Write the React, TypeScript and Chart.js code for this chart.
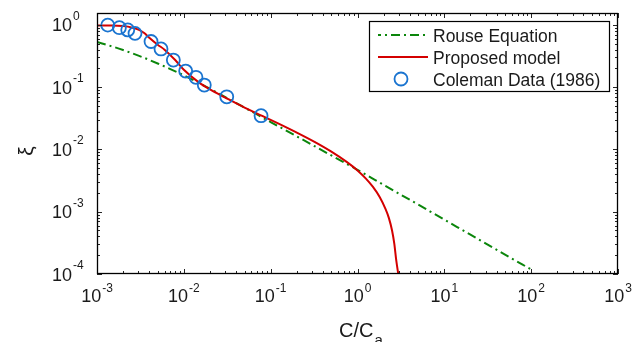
import React, { useEffect, useRef } from 'react';
import { Chart, registerables } from 'chart.js';

Chart.register(...registerables);

// ---- data ----
const rouseX = [0.001, 0.0015, 0.002, 0.003, 0.005, 0.007, 0.01, 0.02, 0.05, 0.1, 0.2, 0.5, 1, 2, 5, 10, 20, 50, 100];
const rouseY = [0.53, 0.45, 0.394, 0.321, 0.24, 0.195, 0.155, 0.094, 0.047, 0.0275, 0.0162, 0.008, 0.0047, 0.0027, 0.0013, 0.000745, 0.000428, 0.000205, 0.000118];

const modelX = [0.001, 0.0015, 0.002, 0.0025, 0.003, 0.0035, 0.004, 0.005, 0.006, 0.008, 0.01, 0.015, 0.02, 0.03, 0.05, 0.08, 0.12, 0.2, 0.32, 0.5, 0.75, 1.0, 1.25, 1.5, 1.8, 2.1, 2.3, 2.5, 2.65, 2.8, 2.95];
const modelY = [0.98, 0.98, 0.955, 0.91, 0.84, 0.74, 0.62, 0.48, 0.4, 0.27, 0.19, 0.118, 0.092, 0.068, 0.047, 0.0345, 0.0264, 0.0186, 0.0132, 0.0092, 0.0063, 0.0046, 0.0034, 0.00252, 0.00172, 0.00111, 0.00079, 0.0005, 0.00031, 0.000162, 0.0001];

const colemanX = [0.00133, 0.00181, 0.00226, 0.00274, 0.00419, 0.00546, 0.00757, 0.0105, 0.0138, 0.0172, 0.0312, 0.0775];
const colemanY = [0.99, 0.9, 0.83, 0.73, 0.54, 0.41, 0.272, 0.181, 0.144, 0.108, 0.07, 0.0348];

const xTickExps = [-3, -2, -1, 0, 1, 2, 3];
const yTickExps = [-4, -3, -2, -1, 0];
const legendLabels = ['Rouse Equation', 'Proposed model', 'Coleman Data (1986)'];
const xTitle = 'C/C';
const xTitleSub = 'a';
const yTitle = 'ξ';

const X_MIN = 1e-3;
const X_MAX = 1e3;
const Y_MIN = 1e-4;
const Y_MAX = 1.55;

const GREEN = '#0b860b';
const RED = '#d40000';
const BLUE = '#1a74d0';
const GREEN_DASH = [9, 4, 2, 4];
const FONT = '"Liberation Sans", Arial, Helvetica, sans-serif';

const decorPlugin = {
  id: 'decor',
  afterDraw(chart: any) {
    const { ctx, chartArea: a, scales } = chart;
    const xs = scales.x;
    const ys = scales.y;
    ctx.save();

    const seg = (x1: number, y1: number, x2: number, y2: number) => {
      ctx.beginPath();
      ctx.moveTo(x1, y1);
      ctx.lineTo(x2, y2);
      ctx.stroke();
    };

    // inside ticks on all four sides
    ctx.strokeStyle = '#262626';
    ctx.lineWidth = 1;
    const minors = [2, 3, 4, 5, 6, 7, 8, 9];
    for (let e = xTickExps[0]; e <= xTickExps[xTickExps.length - 1]; e++) {
      const vals: [number, number][] = [[Math.pow(10, e), 5]];
      minors.forEach((m) => {
        const v = m * Math.pow(10, e);
        if (v < X_MAX) vals.push([v, 3]);
      });
      vals.forEach(([v, len]) => {
        const px = Math.round(xs.getPixelForValue(v)) + 0.5;
        seg(px, a.bottom, px, a.bottom - len);
        seg(px, a.top, px, a.top + len);
      });
    }
    for (let e = yTickExps[0]; e <= yTickExps[yTickExps.length - 1]; e++) {
      const vals: [number, number][] = [[Math.pow(10, e), 5]];
      minors.forEach((m) => {
        const v = m * Math.pow(10, e);
        if (v < Y_MAX) vals.push([v, 3]);
      });
      vals.forEach(([v, len]) => {
        const py = Math.round(ys.getPixelForValue(v)) + 0.5;
        seg(a.left, py, a.left + len, py);
        seg(a.right, py, a.right - len, py);
      });
    }

    // frame
    ctx.strokeStyle = '#000';
    ctx.lineWidth = 1.3;
    ctx.strokeRect(a.left + 0.5, a.top + 0.5, a.right - a.left - 1, a.bottom - a.top - 1);

    // tick labels
    ctx.fillStyle = '#1a1a1a';
    ctx.textBaseline = 'alphabetic';
    ctx.textAlign = 'left';
    const big = `18px ${FONT}`;
    const small = `12px ${FONT}`;
    xTickExps.forEach((e) => {
      const px = xs.getPixelForValue(Math.pow(10, e));
      const sup = String(e);
      ctx.font = big;
      const w1 = ctx.measureText('10').width;
      ctx.font = small;
      const w2 = ctx.measureText(sup).width;
      const start = px - (w1 + w2 + 1) / 2;
      ctx.font = big;
      ctx.fillText('10', start, 302);
      ctx.font = small;
      ctx.fillText(sup, start + w1 + 1, 292);
    });
    yTickExps.forEach((e) => {
      const py = ys.getPixelForValue(Math.pow(10, e));
      const sup = String(e);
      ctx.font = big;
      ctx.textAlign = 'right';
      ctx.fillText('10', 72, py + 6.5);
      ctx.font = small;
      ctx.textAlign = 'left';
      ctx.fillText(sup, 73, py - 5);
    });

    // axis titles
    ctx.font = `20px ${FONT}`;
    const tw = ctx.measureText(xTitle).width;
    ctx.font = `15px ${FONT}`;
    const sw = ctx.measureText(xTitleSub).width;
    const tStart = 361 - (tw + sw + 1) / 2;
    ctx.textAlign = 'left';
    ctx.font = `20px ${FONT}`;
    ctx.fillText(xTitle, tStart, 337);
    ctx.font = `15px ${FONT}`;
    ctx.fillText(xTitleSub, tStart + tw + 1, 345);

    ctx.save();
    ctx.translate(27, 151);
    ctx.rotate(-Math.PI / 2);
    ctx.font = `21px ${FONT}`;
    ctx.textAlign = 'center';
    ctx.textBaseline = 'middle';
    ctx.fillText(yTitle, 0, 0);
    ctx.restore();

    // legend
    const lx = 369.5, ly = 21.5, lw = 240, lh = 70;
    ctx.fillStyle = '#fff';
    ctx.fillRect(lx, ly, lw, lh);
    ctx.strokeStyle = '#000';
    ctx.lineWidth = 1.2;
    ctx.strokeRect(lx, ly, lw, lh);
    const rows = [35, 57, 79];
    // rouse sample
    ctx.strokeStyle = GREEN;
    ctx.lineWidth = 2;
    ctx.setLineDash(GREEN_DASH);
    ctx.lineDashOffset = 6;
    seg(378, rows[0], 428, rows[0]);
    ctx.setLineDash([]);
    // model sample
    ctx.strokeStyle = RED;
    seg(378, rows[1], 428, rows[1]);
    // coleman marker
    ctx.strokeStyle = BLUE;
    ctx.lineWidth = 1.8;
    ctx.beginPath();
    ctx.arc(401, rows[2], 6.5, 0, Math.PI * 2);
    ctx.stroke();
    ctx.fillStyle = '#1a1a1a';
    ctx.font = `17.5px ${FONT}`;
    ctx.textAlign = 'left';
    ctx.textBaseline = 'alphabetic';
    legendLabels.forEach((t, i) => ctx.fillText(t, 433, rows[i] + 6.5));

    ctx.restore();
  },
};

export default function App() {
  const ref = useRef<HTMLCanvasElement | null>(null);

  useEffect(() => {
    document.body.style.margin = '0';
    const canvas = ref.current;
    if (!canvas) return;
    const chart = new Chart(canvas, {
      type: 'scatter',
      data: {
        datasets: [
          {
            label: legendLabels[2],
            data: colemanX.map((x, i) => ({ x, y: colemanY[i] })),
            showLine: false,
            pointRadius: 6.5,
            pointStyle: 'circle',
            pointBorderColor: BLUE,
            pointBackgroundColor: 'rgba(0,0,0,0)',
            pointBorderWidth: 1.8,
            borderColor: BLUE,
            backgroundColor: 'rgba(0,0,0,0)',
          },
          {
            label: legendLabels[1],
            data: modelX.map((x, i) => ({ x, y: modelY[i] })),
            showLine: true,
            pointRadius: 0,
            borderColor: RED,
            borderWidth: 2,
            cubicInterpolationMode: 'monotone',
            backgroundColor: 'rgba(0,0,0,0)',
          },
          {
            label: legendLabels[0],
            data: rouseX.map((x, i) => ({ x, y: rouseY[i] })),
            showLine: true,
            pointRadius: 0,
            borderColor: GREEN,
            borderWidth: 2,
            borderDash: GREEN_DASH,
            cubicInterpolationMode: 'monotone',
            backgroundColor: 'rgba(0,0,0,0)',
          },
        ],
      },
      options: {
        animation: false,
        responsive: false,
        maintainAspectRatio: false,
        events: [],
        layout: { padding: { top: 13, right: 26, left: 0, bottom: 0 } },
        plugins: { legend: { display: false }, tooltip: { enabled: false } },
        scales: {
          x: {
            type: 'logarithmic',
            min: X_MIN,
            max: X_MAX,
            grid: { display: false },
            border: { display: false },
            ticks: { display: false },
            afterBuildTicks: (s: any) => {
              s.ticks = xTickExps.map((e) => ({ value: Math.pow(10, e) }));
            },
            afterFit: (s: any) => {
              s.height = 68;
            },
          },
          y: {
            type: 'logarithmic',
            min: Y_MIN,
            max: Y_MAX,
            grid: { display: false },
            border: { display: false },
            ticks: { display: false },
            afterBuildTicks: (s: any) => {
              s.ticks = yTickExps.map((e) => ({ value: Math.pow(10, e) }));
            },
            afterFit: (s: any) => {
              s.width = 97;
            },
          },
        },
      } as any,
      plugins: [decorPlugin],
    });
    return () => chart.destroy();
  }, []);

  return (
    <div style={{ width: 644, height: 342, background: '#fff' }}>
      <canvas ref={ref} width={644} height={342} style={{ display: 'block', width: 644, height: 342 }} />
    </div>
  );
}
